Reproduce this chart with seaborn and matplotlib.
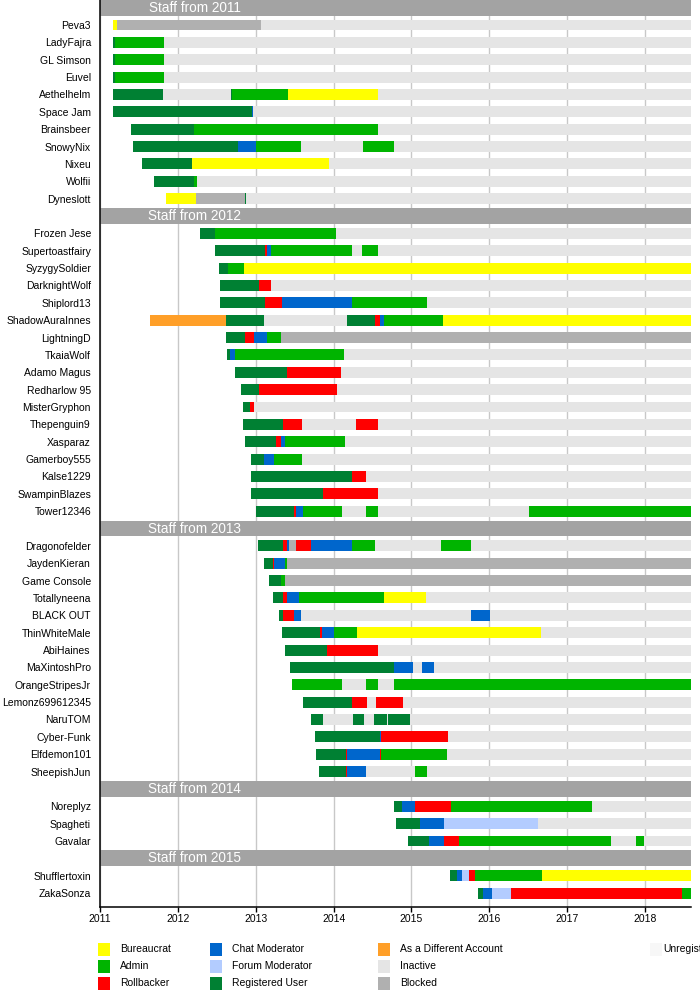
import matplotlib
matplotlib.use("Agg")
import matplotlib.pyplot as plt
import seaborn as sns
import pandas as pd
from matplotlib import font_manager
from matplotlib.patches import Rectangle

# ---------------- data ----------------
END = 2018.59
years = [2011, 2012, 2013, 2014, 2015, 2016, 2017, 2018]

role_codes = ["B", "A", "R", "C", "F", "U", "D", "I", "X", "N"]
role_names = ["Bureaucrat", "Admin", "Rollbacker", "Chat Moderator", "Forum Moderator",
              "Registered User", "As a Different Account", "Inactive", "Blocked", "Unregistered"]
role_colors = ["#ffff00", "#00b400", "#ff0000", "#0066cc", "#b3ccff",
               "#008033", "#ff9f28", "#e5e5e5", "#b0b0b0", "#f7f7f7"]

section_titles = ["Staff from 2011", "Staff from 2012", "Staff from 2013",
                  "Staff from 2014", "Staff from 2015"]

names_2011 = ["Peva3", "LadyFajra", "GL Simson", "Euvel", "Aethelhelm", "Space Jam",
              "Brainsbeer", "SnowyNix", "Nixeu", "Wolfii", "Dyneslott"]
spans_2011 = [
    [(2011.17, "B"), (2011.22, "X"), (2013.07, "I")],
    [(2011.17, "U"), (2011.19, "A"), (2011.82, "I")],
    [(2011.17, "U"), (2011.19, "A"), (2011.82, "I")],
    [(2011.17, "U"), (2011.19, "A"), (2011.82, "I")],
    [(2011.17, "U"), (2011.81, "I"), (2012.68, "U"), (2012.69, "A"), (2013.42, "B"), (2014.57, "I")],
    [(2011.17, "U"), (2012.95, "C"), (2012.97, "I")],
    [(2011.40, "U"), (2012.21, "A"), (2014.57, "I")],
    [(2011.42, "U"), (2012.77, "C"), (2013.00, "A"), (2013.58, "I"), (2014.38, "A"), (2014.78, "I")],
    [(2011.54, "U"), (2012.18, "B"), (2013.94, "I")],
    [(2011.69, "U"), (2012.21, "A"), (2012.25, "I")],
    [(2011.85, "B"), (2012.23, "X"), (2012.86, "U"), (2012.88, "I")],
]

names_2012 = ["Frozen Jese", "Supertoastfairy", "SyzygySoldier", "DarknightWolf", "Shiplord13",
              "ShadowAuraInnes", "LightningD", "TkaiaWolf", "Adamo Magus", "Redharlow 95",
              "MisterGryphon", "Thepenguin9", "Xasparaz", "Gamerboy555", "Kalse1229",
              "SwampinBlazes", "Tower12346"]
spans_2012 = [
    [(2012.29, "U"), (2012.48, "A"), (2014.03, "I")],
    [(2012.48, "U"), (2013.12, "R"), (2013.15, "C"), (2013.20, "A"), (2014.23, "I"), (2014.37, "A"), (2014.57, "I")],
    [(2012.53, "U"), (2012.65, "A"), (2012.85, "B")],
    [(2012.54, "U"), (2013.04, "R"), (2013.20, "I")],
    [(2012.54, "U"), (2013.12, "R"), (2013.34, "C"), (2014.24, "A"), (2015.20, "I")],
    [(2011.64, "D"), (2012.62, "U"), (2013.10, "I"), (2014.17, "U"), (2014.53, "R"), (2014.59, "C"), (2014.65, "A"), (2015.40, "B")],
    [(2012.62, "U"), (2012.86, "R"), (2012.98, "C"), (2013.15, "A"), (2013.33, "X")],
    [(2012.63, "U"), (2012.67, "C"), (2012.74, "A"), (2014.14, "I")],
    [(2012.74, "U"), (2013.40, "R"), (2014.10, "I")],
    [(2012.81, "U"), (2013.04, "R"), (2014.05, "I")],
    [(2012.84, "U"), (2012.92, "R"), (2012.98, "I")],
    [(2012.84, "U"), (2013.35, "R"), (2013.60, "I"), (2014.29, "R"), (2014.57, "I")],
    [(2012.86, "U"), (2013.26, "R"), (2013.33, "C"), (2013.37, "A"), (2014.15, "I")],
    [(2012.94, "U"), (2013.10, "C"), (2013.24, "A"), (2013.60, "I")],
    [(2012.94, "U"), (2014.23, "R"), (2014.42, "I")],
    [(2012.94, "U"), (2013.87, "R"), (2014.57, "I")],
    [(2013.00, "U"), (2013.49, "R"), (2013.52, "C"), (2013.61, "A"), (2014.11, "I"), (2014.41, "A"), (2014.57, "I"), (2016.51, "A")],
]

names_2013 = ["Dragonofelder", "JaydenKieran", "Game Console", "Totallyneena", "BLACK OUT",
              "ThinWhiteMale", "AbiHaines", "MaXintoshPro", "OrangeStripesJr", "Lemonz699612345",
              "NaruTOM", "Cyber-Funk", "Elfdemon101", "SheepishJun"]
spans_2013 = [
    [(2013.03, "U"), (2013.35, "R"), (2013.40, "C"), (2013.43, "X"), (2013.52, "R"), (2013.71, "C"), (2014.23, "A"), (2014.53, "I"), (2015.38, "A"), (2015.76, "I")],
    [(2013.10, "U"), (2013.22, "R"), (2013.24, "C"), (2013.37, "A"), (2013.40, "X")],
    [(2013.17, "U"), (2013.33, "A"), (2013.37, "X")],
    [(2013.22, "U"), (2013.35, "R"), (2013.40, "C"), (2013.55, "A"), (2014.65, "B"), (2015.19, "I")],
    [(2013.30, "U"), (2013.35, "R"), (2013.49, "C"), (2013.58, "I"), (2015.77, "C"), (2016.01, "I")],
    [(2013.34, "U"), (2013.83, "R"), (2013.85, "C"), (2014.00, "A"), (2014.30, "B"), (2016.66, "I")],
    [(2013.37, "U"), (2013.92, "R"), (2014.57, "I")],
    [(2013.44, "U"), (2014.78, "C"), (2015.02, "I"), (2015.13, "C"), (2015.29, "I")],
    [(2013.46, "A"), (2014.11, "I"), (2014.41, "A"), (2014.57, "I"), (2014.77, "A")],
    [(2013.61, "U"), (2014.24, "R"), (2014.43, "I"), (2014.55, "R"), (2014.89, "I")],
    [(2013.71, "U"), (2013.87, "I"), (2014.25, "U"), (2014.39, "I"), (2014.52, "U"), (2014.68, "I"), (2014.70, "U"), (2014.98, "I")],
    [(2013.76, "U"), (2014.59, "C"), (2014.61, "R"), (2015.47, "I")],
    [(2013.78, "U"), (2014.16, "R"), (2014.17, "C"), (2014.59, "R"), (2014.61, "A"), (2015.46, "I")],
    [(2013.81, "U"), (2014.16, "R"), (2014.17, "C"), (2014.42, "I"), (2015.04, "A"), (2015.20, "I")],
]

names_2014 = ["Noreplyz", "Spagheti", "Gavalar"]
spans_2014 = [
    [(2014.78, "U"), (2014.88, "C"), (2015.04, "R"), (2015.51, "A"), (2017.32, "I")],
    [(2014.80, "U"), (2015.11, "C"), (2015.42, "F"), (2016.62, "I")],
    [(2014.95, "U"), (2015.23, "C"), (2015.42, "R"), (2015.61, "A"), (2017.56, "I"), (2017.88, "A"), (2017.99, "I")],
]

names_2015 = ["Shufflertoxin", "ZakaSonza"]
spans_2015 = [
    [(2015.49, "U"), (2015.58, "C"), (2015.65, "F"), (2015.74, "R"), (2015.82, "A"), (2016.68, "B")],
    [(2015.85, "U"), (2015.92, "C"), (2016.04, "F"), (2016.28, "R"), (2018.48, "A")],
]

sections = [(section_titles[0], names_2011, spans_2011),
            (section_titles[1], names_2012, spans_2012),
            (section_titles[2], names_2013, spans_2013),
            (section_titles[3], names_2014, spans_2014),
            (section_titles[4], names_2015, spans_2015)]

# ---------------- build tables ----------------
rows, headers = [], []
slot = 0
for title, names, spans in sections:
    headers.append((slot, title))
    slot += 1
    for name, tl in zip(names, spans):
        for i, (start, code) in enumerate(tl):
            end = tl[i + 1][0] if i + 1 < len(tl) else END
            rows.append(dict(name=name, slot=slot, role=code, start=start, end=end))
        slot += 1
seg = pd.DataFrame(rows)
n_slots = slot

# ---------------- style ----------------
sns.set_theme(style="white")
avail = {f.name for f in font_manager.fontManager.ttflist}
if "Liberation Sans Narrow" in avail:
    lab_font, lab_size = "Liberation Sans Narrow", 9
else:
    lab_font, lab_size = "Liberation Sans", 7.5
plt.rcParams["font.family"] = [lab_font, "DejaVu Sans"]

W, H = 700, 1000
fig = plt.figure(figsize=(7, 10), dpi=100)
ax_left, ax_right, ax_top, ax_bottom = 100, 691, 0, 907
ax = fig.add_axes([ax_left / W, 1 - ax_bottom / H, (ax_right - ax_left) / W, (ax_bottom - ax_top) / H])

color_map = dict(zip(role_codes, role_colors))
for code in role_codes:
    d = seg[seg.role == code]
    if len(d):
        ax.barh(d.slot, d.end - d.start, left=d.start, height=0.63,
                color=color_map[code], linewidth=0, zorder=3)

# section header bars
for hslot, title in headers:
    ax.barh(hslot, END - 2011, left=2011, height=0.92, color="#a3a3a3", linewidth=0, zorder=4)
    ax.text(2011 + (195 - 100) / 78.0, hslot, title, ha="center", va="center",
            color="white", fontsize=9.8, family=["Liberation Sans", "DejaVu Sans"], zorder=5)

ax.set_xlim(2011, END)
ax.set_ylim(n_slots - 1 + 0.8, -0.44)
ax.set_xticks(years)
ax.set_xticklabels([str(y) for y in years], fontsize=lab_size)
name_slots = seg.groupby("slot")["name"].first()
ax.set_yticks(list(name_slots.index))
ax.set_yticklabels(list(name_slots.values), fontsize=lab_size)
ax.tick_params(axis="y", length=0, pad=6.5, colors="black")
ax.tick_params(axis="x", length=3.6, width=1, direction="out", pad=1.5, colors="black", bottom=True)

ax.grid(axis="x", color="#c8c8c8", linewidth=1.0, zorder=0)
ax.grid(axis="y", visible=False)
ax.set_axisbelow(True)
for s in ["top", "right"]:
    ax.spines[s].set_visible(False)
for s in ["left", "bottom"]:
    ax.spines[s].set_color("black")
    ax.spines[s].set_linewidth(1.1)
    ax.spines[s].set_zorder(6)

# ---------------- legend ----------------
legend_cols = [(98, 120), (210, 232), (378, 400), (650, 663)]
legend_rows = [949, 966, 983]
order = [[0, 1, 2], [3, 4, 5], [6, 7, 8], [9]]
for (sx, tx), idxs in zip(legend_cols, order):
    for ry, idx in zip(legend_rows, idxs):
        fig.add_artist(Rectangle((sx / W, 1 - (ry + 6.5) / H), 12 / W, 13 / H,
                                 transform=fig.transFigure, facecolor=role_colors[idx],
                                 edgecolor="none"))
        fig.text(tx / W, 1 - ry / H, role_names[idx], ha="left", va="center",
                 fontsize=lab_size, color="black")

fig.savefig("out.png", dpi=100)
